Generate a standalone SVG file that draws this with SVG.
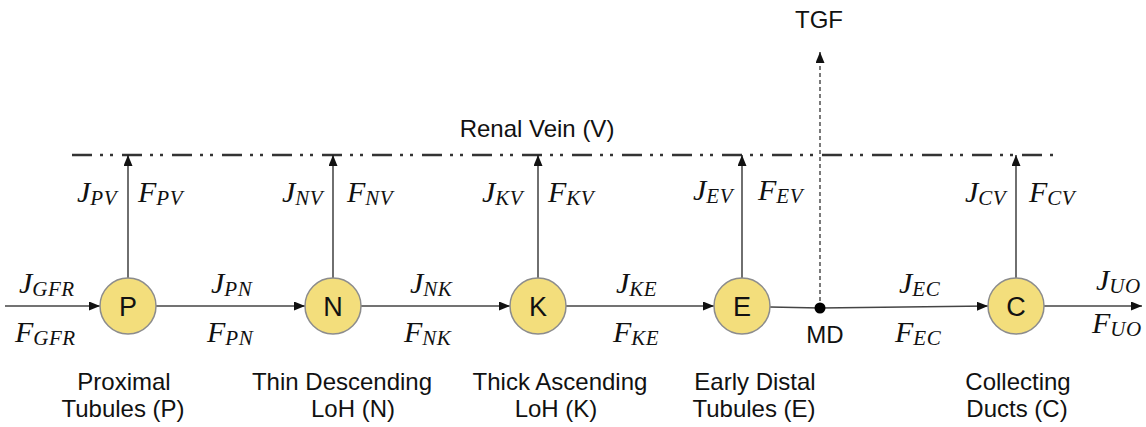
<svg xmlns="http://www.w3.org/2000/svg" width="1146" height="427" viewBox="0 0 1146 427">
<style>
.node circle{fill:#F3DE7C;stroke:#8C8C8C;stroke-width:1.5}
.node text{font-family:"Liberation Sans",Arial,sans-serif;font-size:27px;text-anchor:middle;fill:#111}
.lbl{font-family:"Liberation Sans",Arial,sans-serif;font-size:24px;fill:#111;text-anchor:middle}
.m{font-family:"Liberation Serif","DejaVu Serif",serif;font-style:italic;font-size:30px;fill:#111}
.s{font-size:21px;letter-spacing:0.5px}
.ln{stroke:#444;stroke-width:1.5;fill:none}
.vn{stroke:#222;stroke-width:1.3;fill:none}
</style>
<defs>
<marker id="ah" markerUnits="userSpaceOnUse" markerWidth="12" markerHeight="10" refX="11" refY="4.5" orient="auto">
<path d="M0,0 L11,4.5 L0,9 z" fill="#111"/>
</marker>
</defs>
<g id="vein">
<line x1="72" y1="155" x2="1056" y2="155" stroke="#333" stroke-width="2.5" stroke-dasharray="20 8 3 7 3 9"/>
<text class="lbl" x="537" y="137">Renal Vein (V)</text>
</g>
<g id="connectors">
<line class="ln" x1="5" y1="306" x2="100" y2="306" marker-end="url(#ah)"/>
<line class="ln" x1="156" y1="306" x2="305" y2="306" marker-end="url(#ah)"/>
<line class="ln" x1="361" y1="306" x2="510" y2="306" marker-end="url(#ah)"/>
<line class="ln" x1="566" y1="306" x2="714" y2="306" marker-end="url(#ah)"/>
<line class="ln" x1="770" y1="307" x2="820" y2="308"/>
<line class="ln" x1="820" y1="308" x2="988" y2="306" marker-end="url(#ah)"/>
<line class="ln" x1="1044" y1="306" x2="1142" y2="306" marker-end="url(#ah)"/>
<line class="vn" x1="128" y1="278" x2="128" y2="155" marker-end="url(#ah)"/>
<line class="vn" x1="333" y1="278" x2="333" y2="155" marker-end="url(#ah)"/>
<line class="vn" x1="538" y1="278" x2="538" y2="155" marker-end="url(#ah)"/>
<line class="vn" x1="742" y1="278" x2="742" y2="155" marker-end="url(#ah)"/>
<line class="vn" x1="1016" y1="278" x2="1016" y2="155" marker-end="url(#ah)"/>
<line x1="820" y1="308" x2="820" y2="52" stroke="#333" stroke-width="1.3" stroke-dasharray="4 3" marker-end="url(#ah)"/>
</g>
<g id="MD">
<circle cx="820" cy="308" r="5.5" fill="#000"/>
<text class="lbl" x="825" y="343">MD</text>
</g>
<g id="TGF"><text class="lbl" x="819" y="28">TGF</text></g>
<g id="P" class="node"><circle cx="128" cy="306" r="28"/><text x="128" y="316">P</text></g>
<g id="N" class="node"><circle cx="333" cy="306" r="28"/><text x="333" y="316">N</text></g>
<g id="K" class="node"><circle cx="538" cy="306" r="28"/><text x="538" y="316">K</text></g>
<g id="E" class="node"><circle cx="742" cy="306" r="28"/><text x="742" y="316">E</text></g>
<g id="C" class="node"><circle cx="1016" cy="306" r="28"/><text x="1016" y="316">C</text></g>
<g id="flow-labels">
<text class="m" x="19" y="293">J<tspan class="s" dy="3">GFR</tspan></text>
<text class="m" x="15" y="342">F<tspan class="s" dy="3">GFR</tspan></text>
<text class="m" x="211" y="293">J<tspan class="s" dy="3">PN</tspan></text>
<text class="m" x="207" y="342">F<tspan class="s" dy="3">PN</tspan></text>
<text class="m" x="410" y="293">J<tspan class="s" dy="3">NK</tspan></text>
<text class="m" x="404" y="342">F<tspan class="s" dy="3">NK</tspan></text>
<text class="m" x="616" y="293">J<tspan class="s" dy="3">KE</tspan></text>
<text class="m" x="613" y="342">F<tspan class="s" dy="3">KE</tspan></text>
<text class="m" x="899" y="293">J<tspan class="s" dy="3">EC</tspan></text>
<text class="m" x="895" y="342">F<tspan class="s" dy="3">EC</tspan></text>
<text class="m" x="1096" y="290">J<tspan class="s" dy="3">UO</tspan></text>
<text class="m" x="1092" y="333">F<tspan class="s" dy="3">UO</tspan></text>
<text class="m" x="77" y="202">J<tspan class="s" dy="3">PV</tspan></text>
<text class="m" x="138" y="202">F<tspan class="s" dy="3">PV</tspan></text>
<text class="m" x="282" y="202">J<tspan class="s" dy="3">NV</tspan></text>
<text class="m" x="347" y="202">F<tspan class="s" dy="3">NV</tspan></text>
<text class="m" x="482" y="202">J<tspan class="s" dy="3">KV</tspan></text>
<text class="m" x="548" y="202">F<tspan class="s" dy="3">KV</tspan></text>
<text class="m" x="693" y="200">J<tspan class="s" dy="3">EV</tspan></text>
<text class="m" x="758" y="200">F<tspan class="s" dy="3">EV</tspan></text>
<text class="m" x="965" y="202">J<tspan class="s" dy="3">CV</tspan></text>
<text class="m" x="1029" y="202">F<tspan class="s" dy="3">CV</tspan></text>
</g>
<g id="segment-labels">
<text class="lbl" x="124" y="390">Proximal</text>
<text class="lbl" x="123" y="417">Tubules (P)</text>
<text class="lbl" x="342" y="390">Thin Descending</text>
<text class="lbl" x="353" y="417">LoH (N)</text>
<text class="lbl" x="560" y="390">Thick Ascending</text>
<text class="lbl" x="556" y="417">LoH (K)</text>
<text class="lbl" x="755" y="390">Early Distal</text>
<text class="lbl" x="754" y="417">Tubules (E)</text>
<text class="lbl" x="1018" y="390">Collecting</text>
<text class="lbl" x="1017" y="417">Ducts (C)</text>
</g>
</svg>
